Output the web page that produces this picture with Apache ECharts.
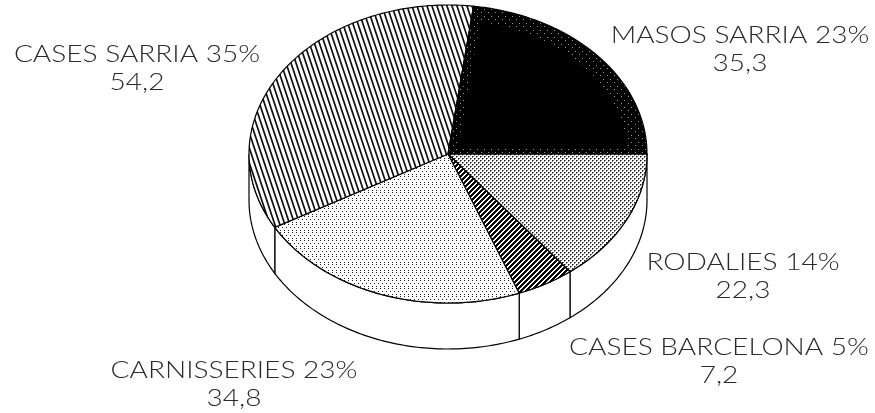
<!DOCTYPE html>
<html>
<head>
<meta charset="utf-8">
<style>
  html, body { margin: 0; padding: 0; background: #fff; }
  #main { width: 875px; height: 413px; }
</style>
<script src="https://cdn.jsdelivr.net/npm/echarts@6/dist/echarts.min.js"></script>
</head>
<body>
<div id="main"></div>
<script>
// slices in drawing order, clockwise from 3 o'clock
const names = ['RODALIES', 'CASES BARCELONA', 'CARNISSERIES', 'CASES SARRIA', 'MASOS SARRIA']
const values = [22.3, 7.2, 34.8, 54.2, 35.3]
const total = values.reduce((a, b) => a + b, 0)

// label centres, one per slice
const labelX = [743, 719, 234, 137, 740]
const labelY = [263, 348, 371, 55, 36]
const lineGap = 28

const cx = 448, cy = 154, rx = 199, ry = 149, depth = 46

// small pixel tiles for the scanned fill patterns, test gives the ink per pixel
function tile (w, h, bg, fg, test) {
  const c = document.createElement('canvas')
  c.width = w
  c.height = h
  const ctx = c.getContext('2d')
  ctx.fillStyle = bg
  ctx.fillRect(0, 0, w, h)
  ctx.fillStyle = fg
  for (let y = 0; y < h; y++) {
    for (let x = 0; x < w; x++) {
      ctx.globalAlpha = Number(test(x, y))
      ctx.fillRect(x, y, 1, 1)
    }
  }
  return { image: c, repeat: 'repeat' }
}

// coverage of a steep line, one px sideways per 3 rows
function steepLine (x, y) {
  const d = ((x + 0.5 - (y + 0.5) / 3) % 5 + 5) % 5
  const dist = Math.min(d, 5 - d)
  return Math.max(0, Math.min(1, 1.4 - dist))
}

// staggered soft dots
function softDot (x, y) {
  const px = y < 2 ? x : (x + 2) % 4
  const py = y % 2
  if (px == 0 && py == 0) return 1
  if ((px == 1 && py == 0) || (px == 0 && py == 1)) return 0.6
  return 0
}

const fills = [
  tile(4, 4, '#fff', '#222', softDot),
  tile(5, 5, '#fff', '#000', (x, y) => (x + y) % 5 < 3),
  tile(4, 8, '#fff', '#222', (x, y) => (y == 0 && x == 0) || (y == 3 && x == 2) || (y == 6 && x == 0)),
  tile(5, 15, '#fff', '#111', steepLine),
  tile(7, 7, '#000', '#999', (x, y) => (x == 1 && y == 2) || (x == 5 && y == 5))
]

function point (deg, scale, dy) {
  const a = deg * Math.PI / 180
  return [cx + rx * scale * Math.cos(a), cy + ry * scale * Math.sin(a) + (dy || 0)]
}

function arc (from, to, scale, dy) {
  const pts = []
  const n = Math.max(2, Math.ceil(to - from))
  for (let i = 0; i <= n; i++) pts.push(point(from + (to - from) * i / n, scale, dy))
  return pts
}

function wedge (from, to, scale) {
  return [[cx, cy]].concat(arc(from, to, scale))
}

function renderItem (params, api) {
  const i = params.dataIndex
  const before = values.slice(0, i).reduce((a, b) => a + b, 0)
  const from = before / total * 360
  const to = (before + api.value(0)) / total * 360
  const children = []
  const line = { stroke: '#000', lineWidth: 1.2 }

  // side wall only shows on the front half
  if (from < 180) {
    const end = Math.min(to, 180)
    children.push({
      type: 'polygon',
      shape: { points: arc(from, end, 1).concat(arc(from, end, 1, depth).reverse()) },
      style: Object.assign({ fill: '#fff' }, line)
    })
  }
  children.push({
    type: 'polygon',
    shape: { points: wedge(from, to, 1) },
    style: Object.assign({ fill: fills[i] }, line)
  })
  // the black slice only shows its speckle near the rim and the edges
  if (i == 4) {
    children.push({
      type: 'polygon',
      shape: { points: [[cx + 10, cy - 6]].concat(arc(from + 3, to - 3, 0.9)) },
      style: { fill: '#000' }
    })
  }
  const pct = Math.round(api.value(0) / total * 100)
  const textStyle = {
    fill: '#2a2a2a',
    font: '300 23px Lato, "Liberation Sans", sans-serif',
    align: 'center',
    verticalAlign: 'middle'
  }
  children.push({
    type: 'text',
    x: labelX[i],
    y: labelY[i],
    scaleX: 1.22,
    style: Object.assign({ text: names[i] + ' ' + pct + '%' }, textStyle)
  })
  children.push({
    type: 'text',
    x: labelX[i],
    y: labelY[i] + lineGap,
    scaleX: 1.22,
    style: Object.assign({ text: String(api.value(0)).replace('.', ',') }, textStyle)
  })
  return { type: 'group', children: children }
}

var myChart = echarts.init(document.getElementById('main'), null, { renderer: 'canvas' })
myChart.setOption({
  animation: false,
  backgroundColor: '#fff',
  series: [{
    type: 'custom',
    coordinateSystem: 'none',
    silent: true,
    renderItem: renderItem,
    data: values
  }]
})
</script>
</body>
</html>
